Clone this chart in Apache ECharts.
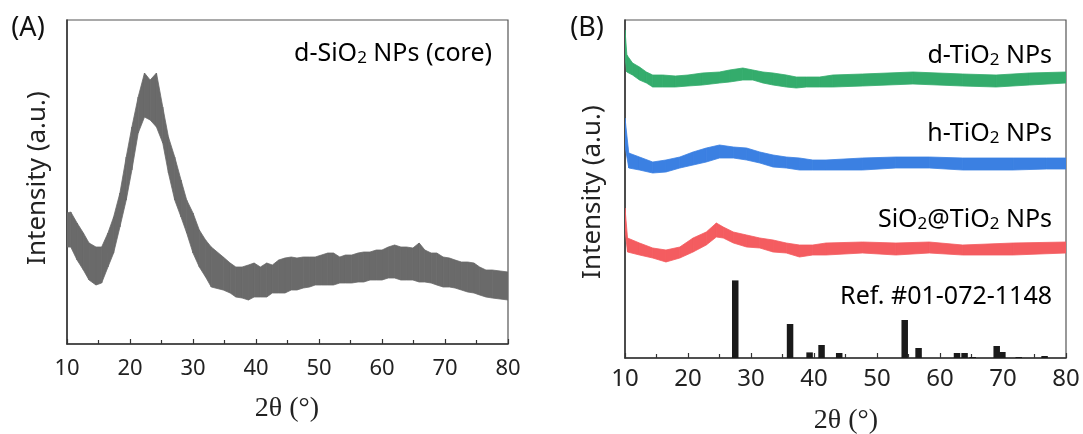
<!DOCTYPE html>
<html>
<head>
<meta charset="utf-8">
<script src="https://cdn.jsdelivr.net/npm/echarts@6/dist/echarts.min.js"></script>
<style>
html,body{margin:0;padding:0;background:#fff;}
#chart{width:1083px;height:434px;}
</style>
</head>
<body>
<div id="chart"></div>
<script>
// ---------- tick labels ----------
const xTicks = [10, 20, 30, 40, 50, 60, 70, 80];

// ---------- Panel A: d-SiO2 NPs (core) – noisy band, lower / upper edge (a.u.) ----------
const aTheta = [10, 10.6, 11.6, 12.6, 13.5, 14.6, 15.5, 16.5, 17.4, 18.4, 19.4, 20.3, 21.3, 22.3, 23.2, 24.2, 25.2, 26.1, 27.1, 28.1, 29.0, 30.0, 31.0, 32.0, 32.9,
  34.8, 35.9, 36.8, 37.8, 38.8, 39.7, 40.7, 41.7, 42.6, 43.6, 44.6, 45.6, 46.5, 47.5, 48.5, 49.4, 50.4, 51.4, 52.3, 53.3, 54.2, 55.2, 56.2, 57.1, 58.1, 59.1,
  60.0, 61.0, 62.0, 63.0, 63.9, 64.9, 65.9, 66.8, 67.8, 68.7, 69.7, 70.7, 71.6, 72.6, 73.6, 74.6, 75.5, 76.5, 77.5, 80.0];
const aHigh = [131, 132, 121, 111, 101, 97, 97, 111, 127, 151, 187, 217, 247, 271, 264, 271, 237, 207, 187, 164, 144, 131, 114, 104, 97,
  87, 81, 77, 77, 79, 81, 77, 81, 79, 84, 86, 87, 86, 87, 87, 87, 89, 91, 91, 87, 89, 89, 91, 92, 92, 94,
  94, 97, 99, 97, 97, 96, 101, 94, 91, 91, 87, 86, 84, 82, 82, 81, 77, 74, 74, 72];
const aLow = [97, 97, 84, 74, 64, 59, 61, 77, 91, 117, 144, 174, 211, 227, 224, 217, 201, 171, 144, 127, 111, 91, 77, 67, 57,
  54, 51, 47, 46, 44, 47, 47, 47, 51, 51, 51, 54, 54, 56, 57, 59, 59, 59, 59, 61, 61, 61, 62, 62, 64, 64,
  64, 66, 66, 64, 64, 64, 62, 62, 61, 59, 57, 57, 56, 54, 52, 51, 49, 47, 46, 44];

// ---------- Panel B: three offset patterns (a.u.) ----------
const dTheta = [10.0, 10.3, 11.2, 12.3, 13.4, 14.4, 16.0, 18.0, 20.0, 22.3, 25.0, 26.6, 28.7, 30.3, 31.9, 33.5, 35.6, 37.2, 38.8, 40.9, 43.0, 47.7, 55.7, 63.6, 68.9, 74.2, 80.0];
const dHigh  = [328, 303, 295, 291, 286, 283, 283, 282, 283, 285, 286, 288, 290, 288, 286, 285, 283, 281, 281, 281, 283, 284, 286, 284, 283, 285, 286];
const dLow   = [300, 286, 283, 278, 275, 271, 271, 271, 272, 273, 275, 276, 278, 278, 275, 273, 271, 270, 271, 271, 271, 272, 274, 272, 271, 273, 275];

const hTheta = [10.0, 10.6, 12.3, 14.4, 16.5, 18.7, 20.8, 22.9, 25.0, 27.2, 29.3, 31.4, 33.5, 35.6, 37.7, 39.8, 41.9, 47.7, 53.0, 58.3, 63.6, 71.6, 76.9, 80.0];
const hHigh  = [240, 205, 201, 196, 198, 201, 206, 210, 213, 211, 210, 206, 203, 201, 200, 198, 198, 200, 201, 201, 200, 200, 200, 200];
const hLow   = [212, 190, 188, 185, 186, 190, 193, 196, 200, 200, 198, 195, 191, 190, 188, 188, 188, 188, 190, 190, 188, 188, 189, 189];

const sTheta = [10.0, 10.4, 12.3, 14.4, 16.5, 18.7, 20.8, 22.9, 24.5, 25.6, 27.2, 29.3, 31.4, 33.5, 35.6, 37.7, 39.8, 41.9, 47.7, 53.0, 58.3, 63.6, 71.6, 80.0];
const sHigh  = [150, 120, 115, 110, 108, 111, 120, 126, 135, 131, 126, 123, 120, 118, 115, 113, 113, 115, 116, 115, 116, 113, 115, 116];
const sLow   = [128, 106, 103, 100, 96, 100, 106, 113, 121, 120, 115, 111, 110, 106, 105, 101, 103, 103, 105, 103, 105, 103, 103, 105];

// Reference pattern #01-072-1148 (stick positions and heights, a.u.)
const refTheta  = [27.5, 36.2, 39.3, 41.2, 44.0, 54.4, 56.6, 62.7, 63.9, 65.2, 69.0, 69.9, 72.5, 76.6];
const refHeight = [77.6, 34, 5.6, 13, 5, 38, 10, 5, 5, 1, 12, 6, 1, 2];

// ---------- helpers ----------
const pairs = (xs, ys) => xs.map((x, i) => [x, ys[i]]);
// one data item per segment: [x0, lo0, hi0, x1, lo1, hi1]
const segs = (xs, hi, lo) => xs.slice(0, -1).map((x, i) => [x, lo[i], hi[i], xs[i + 1], lo[i + 1], hi[i + 1]]);

function band(name, xs, hi, lo, color, xi, yi) {
  return {
    name: name, type: 'custom', xAxisIndex: xi, yAxisIndex: yi, silent: true, clip: true, z: 2,
    data: segs(xs, hi, lo),
    encode: { x: [0, 3], y: [1, 2, 4, 5] },
    renderItem: function (params, api) {
      const p1 = api.coord([api.value(0), api.value(2)]);
      const p2 = api.coord([api.value(3), api.value(5)]);
      const p3 = api.coord([api.value(3), api.value(4)]);
      const p4 = api.coord([api.value(0), api.value(1)]);
      return {
        type: 'polygon',
        shape: { points: [p1, p2, p3, p4] },
        style: { fill: color, stroke: color, lineWidth: 0.8 }
      };
    }
  };
}

const FONT = '"Noto Sans", "DejaVu Sans", sans-serif';

function xAxisCfg(gi, margin, fs) {
  return {
    gridIndex: gi, type: 'value', min: xTicks[0], max: xTicks[xTicks.length - 1], interval: 10,
    axisLine: { show: true, onZero: false, lineStyle: { color: '#333', width: 1.5 } },
    axisTick: { show: true, inside: true, length: 5, lineStyle: { color: '#333', width: 1.2 } },
    minorTick: { show: true, splitNumber: 2, length: 4, lineStyle: { color: '#333', width: 1.2 } },
    splitLine: { show: false },
    axisLabel: { show: true, fontFamily: FONT, fontSize: fs, color: '#222', margin: margin, lineHeight: fs,
      formatter: v => (xTicks.indexOf(v) >= 0 ? String(v) : '') }
  };
}
function yAxisCfg(gi, max) {
  return {
    gridIndex: gi, type: 'value', min: 0, max: max,
    axisLine: { show: true, lineStyle: { color: '#333', width: 1.5 } },
    axisTick: { show: false }, axisLabel: { show: false }, splitLine: { show: false }
  };
}

function subText(x, y, parts, fs, align) {
  const txt = parts.map(p => (p[1] ? '{s|' + p[0] + '}' : '{n|' + p[0] + '}')).join('');
  return {
    type: 'text', x: x, y: y, silent: true,
    style: {
      text: txt, align: align || 'right', verticalAlign: 'middle',
      rich: {
        n: { fontFamily: FONT, fontSize: fs, color: '#222', lineHeight: fs + 4, verticalAlign: 'bottom' },
        s: { fontFamily: FONT, fontSize: Math.round(fs * 0.68), color: '#222', lineHeight: Math.round(fs * 0.7), verticalAlign: 'bottom' }
      }
    }
  };
}

const chart = echarts.init(document.getElementById('chart'), null, { renderer: 'canvas' });

const option = {
  animation: false,
  backgroundColor: '#ffffff',
  grid: [
    { left: 67, right: 575, top: 20, bottom: 90, show: true, borderColor: '#555', borderWidth: 1.2, backgroundColor: 'transparent' },
    { left: 625, right: 17, top: 20, bottom: 76, show: true, borderColor: '#555', borderWidth: 1.2, backgroundColor: 'transparent' }
  ],
  xAxis: [xAxisCfg(0, 14, 22), xAxisCfg(1, 9, 24)],
  yAxis: [yAxisCfg(0, 324), yAxisCfg(1, 338)],
  series: [
    band('dSiO2', aTheta, aHigh, aLow, '#6a6a6a', 0, 0),
    band('dTiO2', dTheta, dHigh, dLow, '#34ac6c', 1, 1),
    band('hTiO2', hTheta, hHigh, hLow, '#3b80e2', 1, 1),
    band('SiO2TiO2', sTheta, sHigh, sLow, '#f45c60', 1, 1),
    { name: 'Ref', type: 'bar', xAxisIndex: 1, yAxisIndex: 1, data: pairs(refTheta, refHeight),
      barWidth: 6.5, itemStyle: { color: '#1a1a1a' }, silent: true, z: 3 }
  ],
  graphic: [
    { type: 'text', x: 28, y: 28, silent: true, style: { text: '(A)', fontFamily: FONT, fontSize: 27, fill: '#111', align: 'center', verticalAlign: 'middle' } },
    { type: 'text', x: 587, y: 28, silent: true, style: { text: '(B)', fontFamily: FONT, fontSize: 27, fill: '#111', align: 'center', verticalAlign: 'middle' } },
    { type: 'text', x: 38, y: 178, rotation: Math.PI / 2, silent: true,
      style: { text: 'Intensity (a.u.)', fontFamily: FONT, fontSize: 26, fill: '#222', align: 'center', verticalAlign: 'middle' } },
    { type: 'text', x: 593, y: 192, rotation: Math.PI / 2, silent: true,
      style: { text: 'Intensity (a.u.)', fontFamily: FONT, fontSize: 26, fill: '#222', align: 'center', verticalAlign: 'middle' } },
    { type: 'text', x: 287, y: 409, silent: true,
      style: { text: '2θ (°)', fontFamily: '"Liberation Serif", serif', fontSize: 28, fill: '#222', align: 'center', verticalAlign: 'middle' } },
    { type: 'text', x: 846, y: 421, silent: true,
      style: { text: '2θ (°)', fontFamily: '"Liberation Serif", serif', fontSize: 28, fill: '#222', align: 'center', verticalAlign: 'middle' } },
    subText(492, 52, [['d-SiO', 0], ['2', 1], [' NPs (core)', 0]], 25),
    subText(1052, 54, [['d-TiO', 0], ['2', 1], [' NPs', 0]], 25),
    subText(1052, 132, [['h-TiO', 0], ['2', 1], [' NPs', 0]], 25),
    subText(1052, 218, [['SiO', 0], ['2', 1], ['@TiO', 0], ['2', 1], [' NPs', 0]], 25),
    subText(1052, 295, [['Ref. #01-072-1148', 0]], 25)
  ]
};
chart.setOption(option);
</script>
</body>
</html>
